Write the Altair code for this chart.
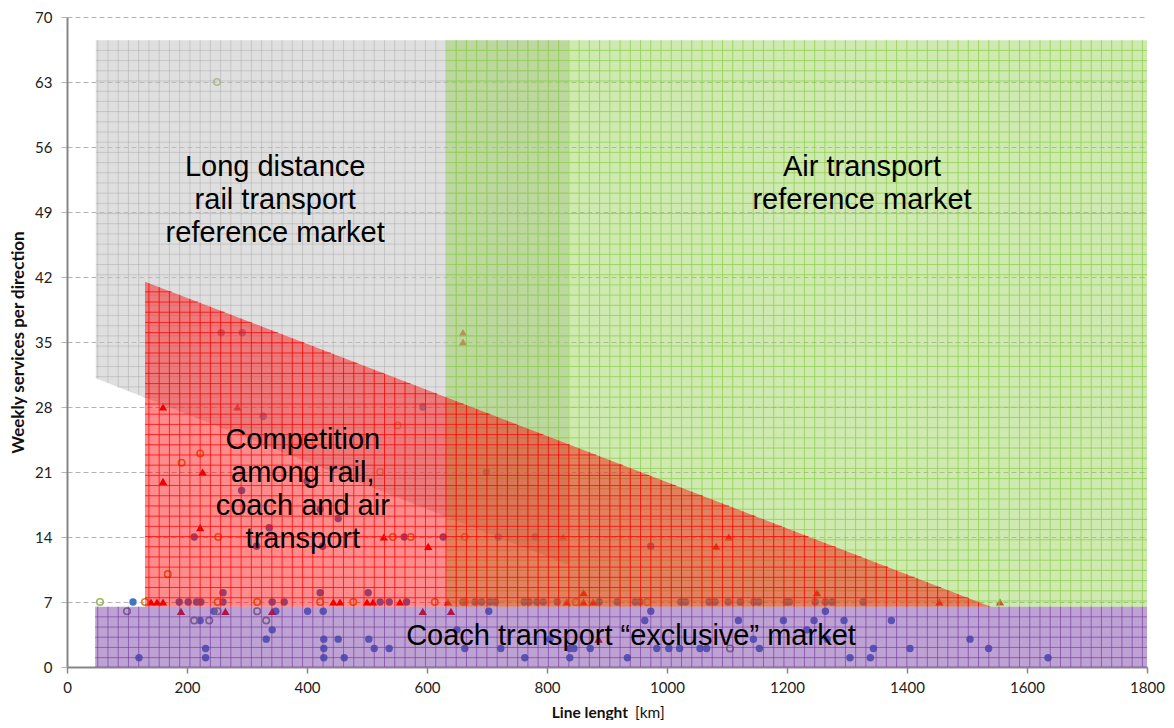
import altair as alt
import pandas as pd

# ---------------- market regions (data units) ----------------
grey_poly = [(48, 31.1), (48, 67.5), (835, 67.5), (835, 11.0)]
green_poly = [(632, 6.5), (632, 67.5), (1800, 67.5), (1800, 6.5)]
red_poly = [(130, 6.5), (130, 41.5), (1540, 6.5)]
purple_poly = [(47, 0), (47, 6.5), (1800, 6.5), (1800, 0)]

# ---------------- observed services ----------------
coach_x = [110, 187, 202, 216, 223, 260, 342, 362, 522, 537, 566, 660, 680, 691, 705, 714, 762, 770, 783, 794,
           817, 887, 917, 947, 955, 1023, 1031, 1070, 1080, 1102, 1122, 1145, 1153, 1199, 1204, 1247, 1264, 1275, 1327,
           260, 422, 502,
           257, 292, 327, 593, 291, 400, 699, 422, 452, 337, 212, 562, 627, 719, 780, 316, 426, 973,
           120, 231, 231, 222, 245, 332, 342, 348, 401, 427, 428, 428, 428, 452, 462, 503, 512, 537, 650, 663,
           703, 723, 763, 805, 838, 838, 845, 872, 934, 963, 973, 983, 1003, 1021, 1055, 1066, 1119, 1144, 1154,
           1194, 1233, 1245, 1264, 1267, 1295, 1305, 1339, 1344, 1374, 1405, 1505, 1536, 1635]
coach_y = [7, 7, 7, 7, 7, 7, 7, 7, 7, 7, 7, 7, 7, 7, 7, 7, 7, 7, 7, 7,
           7, 7, 7, 7, 7, 7, 7, 7, 7, 7, 7, 7, 7, 7, 7, 7, 7, 7, 7,
           8, 8, 8,
           36, 36, 27, 28, 19, 20, 21, 17, 16, 15, 14, 14, 14, 14, 14, 13, 13, 13,
           1, 2, 1, 5, 6, 3, 4, 6, 6, 6, 3, 2, 1, 3, 1, 3, 2, 2, 4, 2,
           6, 2, 1, 3, 2, 1, 2, 2, 1, 5, 6, 2, 2, 2, 2, 2, 5, 3, 2,
           5, 4, 5, 6, 3, 5, 1, 1, 2, 5, 2, 3, 2, 1]

rail_x = [140, 150, 160, 444, 455, 500, 510, 555, 635, 833, 861, 877, 1454, 1555, 861, 1250,
          190, 264, 342, 593, 640, 886, 160, 284, 226, 160, 222, 528, 602, 827, 1082, 1103, 660, 660]
rail_y = [7, 7, 7, 7, 7, 7, 7, 7, 7, 7, 7, 7, 7, 7, 8, 8,
          6, 6, 6, 6, 6, 3, 28, 28, 21, 20, 15, 14, 13, 14, 13, 14, 36, 35]

orange_x = [130, 251, 317, 422, 477, 613, 663, 848, 967, 168, 191, 222, 252, 543, 573, 663, 522, 551]
orange_y = [7, 7, 7, 7, 7, 7, 7, 7, 7, 10, 22, 23, 14, 14, 14, 14, 21, 26]

green_pt_x = [55, 250]
green_pt_y = [7, 63]

grey_pt_x = [100, 212, 237, 251, 317, 332, 1105]
grey_pt_y = [6, 5, 5, 6, 6, 5, 2]

labels = ["Long distance\nrail transport\nreference market",
          "Air transport\nreference market",
          "Competition\namong rail,\ncoach and air\ntransport",
          "Coach transport \u201cexclusive\u201d market"]
label_x = [347, 1325, 393, 940]
label_y = [53.9, 53.9, 24.4, 3.3]

# ---------------- helpers ----------------
def hatch(poly, dx=17.07, dy=1.098):
    xs = [p[0] for p in poly]
    ys = [p[1] for p in poly]
    n = len(poly)
    segs = []
    k = int(min(xs) // dx) + 1
    while k * dx < max(xs):
        x = k * dx
        hits = []
        for i in range(n):
            (x1, y1), (x2, y2) = poly[i], poly[(i + 1) % n]
            if x1 != x2 and min(x1, x2) <= x <= max(x1, x2):
                hits.append(y1 + (x - x1) * (y2 - y1) / (x2 - x1))
        if len(hits) >= 2:
            segs.append({"x": x, "x2": x, "y": min(hits), "y2": max(hits)})
        k += 1
    top = max(ys)
    j = 1
    while top - j * dy > min(ys):
        y = top - j * dy
        hits = []
        for i in range(n):
            (x1, y1), (x2, y2) = poly[i], poly[(i + 1) % n]
            if y1 != y2 and min(y1, y2) <= y <= max(y1, y2):
                hits.append(x1 + (y - y1) * (x2 - x1) / (y2 - y1))
        if len(hits) >= 2:
            segs.append({"x": min(hits), "x2": max(hits), "y": y, "y2": y})
        j += 1
    return pd.DataFrame(segs)


def poly_df(poly):
    return pd.DataFrame({"x": [p[0] for p in poly], "y": [p[1] for p in poly], "o": list(range(len(poly)))})


W, H = 1080, 650

xscale = alt.Scale(domain=[0, 1800], nice=False, zero=False)
yscale = alt.Scale(domain=[0, 70], nice=False, zero=False)

xaxis = alt.Axis(values=list(range(0, 1801, 200)), title=None, grid=False, format="d",
                 domainColor="#868686", domainWidth=2, tickColor="#868686", tickSize=6, tickWidth=1.5,
                 labelFont="Lato", labelFontSize=15, labelColor="#222222", labelPadding=7, labelFlush=False)
yaxis = alt.Axis(values=list(range(0, 71, 7)), title="Weekly services per direction",
                 grid=True, gridDash=[5, 3], gridColor="#b5b5b5", gridWidth=1,
                 domainColor="#868686", domainWidth=2, tickColor="#b5b5b5", tickSize=6, tickWidth=1,
                 labelFont="Lato", labelFontSize=15, labelColor="#222222", labelPadding=9,
                 titleFont="Lato", titleFontSize=17, titleFontWeight="bold", titleColor="#111111",
                 titleAngle=270, titleX=-49, titleY=H / 2, titleAlign="center", titleBaseline="middle")


def X(f="x"):
    return alt.X(f, type="quantitative", scale=xscale, axis=xaxis)


def Y(f="y"):
    return alt.Y(f, type="quantitative", scale=yscale, axis=yaxis)


def pts(xs, ys):
    return pd.DataFrame({"x": xs, "y": ys})


# ---------------- points (drawn beneath the translucent regions) ----------------
coach_layer = alt.Chart(pts(coach_x, coach_y)).mark_circle(size=55, color="#4472c4", opacity=1).encode(x=X(), y=Y())
rail_layer = alt.Chart(pts(rail_x, rail_y)).mark_point(shape="triangle-up", filled=True, size=70,
                                                        color="#e00000", opacity=1).encode(x=X(), y=Y())
orange_layer = alt.Chart(pts(orange_x, orange_y)).mark_point(shape="circle", filled=False, size=42,
                                                              strokeWidth=1.6, color="#d9822b", opacity=1).encode(x=X(), y=Y())
greenpt_layer = alt.Chart(pts(green_pt_x, green_pt_y)).mark_point(shape="circle", filled=False, size=42,
                                                                   strokeWidth=1.6, color="#9bbb59", opacity=1).encode(x=X(), y=Y())
greypt_layer = alt.Chart(pts(grey_pt_x, grey_pt_y)).mark_point(shape="circle", filled=False, size=42,
                                                                strokeWidth=1.6, color="#808080", opacity=1).encode(x=X(), y=Y())


def region(poly, fill, fill_op, line, line_op):
    area = alt.Chart(poly_df(poly)).mark_line(
        interpolate="linear-closed", filled=True, fill=fill, fillOpacity=fill_op, strokeOpacity=0
    ).encode(x=X(), y=Y(), order="o:Q")
    rules = alt.Chart(hatch(poly)).mark_rule(color=line, opacity=line_op, strokeWidth=1).encode(
        x=X(), x2="x2:Q", y=Y(), y2="y2:Q")
    return [area, rules]


layers = [coach_layer, rail_layer, orange_layer, greenpt_layer, greypt_layer]
layers += region(grey_poly, "#bfbfbf", 0.5, "#a6a6a6", 0.45)
layers += region(green_poly, "#92d050", 0.45, "#92d050", 0.8)
layers += region(red_poly, "#ff0000", 0.45, "#ff0000", 0.75)
layers += region(purple_poly, "#7030a0", 0.45, "#7030a0", 0.6)

text_layer = alt.Chart(pd.DataFrame({"t": labels, "x": label_x, "y": label_y})).mark_text(
    font="Liberation Sans", fontSize=29, color="#000000", lineBreak="\n", lineHeight=33,
    align="center", baseline="middle"
).encode(x=X(), y=Y(), text="t:N")
layers.append(text_layer)

xt1 = alt.Chart(pd.DataFrame({"t": ["Line lenght"]})).mark_text(
    font="Lato", fontSize=15.5, fontWeight="bold", color="#111111", align="right", baseline="middle"
).encode(x=alt.value(561), y=alt.value(696), text="t:N")
xt2 = alt.Chart(pd.DataFrame({"t": ["[km]"]})).mark_text(
    font="Lato", fontSize=15.5, color="#111111", align="left", baseline="middle"
).encode(x=alt.value(568), y=alt.value(696), text="t:N")
layers += [xt1, xt2]

chart = alt.layer(*layers).properties(
    width=W, height=H,
    autosize=alt.AutoSizeParams(type="none"),
    padding={"left": 59, "top": 9, "right": 19, "bottom": 53},
    background="white",
).configure_view(stroke=None)

chart.save("out.html", embed_options={"renderer": "svg", "actions": False})
